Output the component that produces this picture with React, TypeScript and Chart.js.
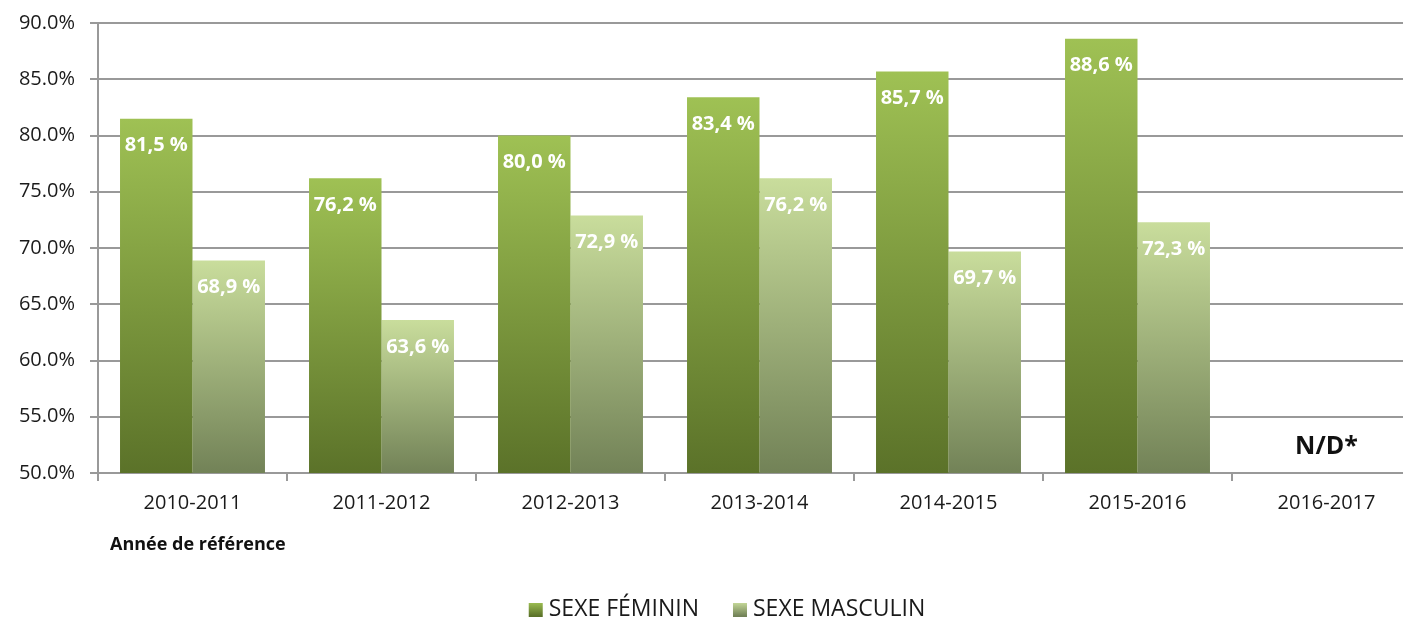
import React, { useEffect, useRef } from "react";
import { Chart, registerables } from "chart.js";

Chart.register(...registerables);

const categories = ["2010-2011", "2011-2012", "2012-2013", "2013-2014", "2014-2015", "2015-2016", "2016-2017"];
const feminin: (number | null)[] = [81.5, 76.2, 80.0, 83.4, 85.7, 88.6, null];
const masculin: (number | null)[] = [68.9, 63.6, 72.9, 76.2, 69.7, 72.3, null];
const seriesNames = ["SEXE FÉMININ", "SEXE MASCULIN"];
const yMin = 50;
const yMax = 90;
const yStep = 5;
const missingLabel = "N/D*";
const xAxisTitle = "Année de référence";

const FONT = "'Open Sans', 'DejaVu Sans', sans-serif";
const femColors = ["#9fc154", "#5b7229"];
const mascColors = ["#c9dd9c", "#728257"];
const GRID = "#999999";

function makeGradient(ctx: any, colors: string[]) {
  const chart = ctx.chart;
  const v = ctx.raw;
  const ys = chart.scales && chart.scales.y;
  if (v == null || !ys) return colors[0];
  const top = ys.getPixelForValue(v);
  const bottom = ys.getPixelForValue(ys.min);
  if (!isFinite(top) || !isFinite(bottom) || top === bottom) return colors[0];
  const g = chart.ctx.createLinearGradient(0, top, 0, bottom);
  g.addColorStop(0, colors[0]);
  g.addColorStop(1, colors[1]);
  return g;
}

const labelsPlugin = {
  id: "customLabels",
  afterDatasetsDraw(chart: any) {
    const c = chart.ctx;
    c.save();
    c.font = `bold 20px ${FONT}`;
    c.fillStyle = "#ffffff";
    c.textAlign = "center";
    c.textBaseline = "middle";
    chart.data.datasets.forEach((ds: any, di: number) => {
      const meta = chart.getDatasetMeta(di);
      meta.data.forEach((el: any, i: number) => {
        const v = ds.data[i];
        if (v == null) return;
        const txt = v.toFixed(1).replace(".", ",") + " %";
        c.fillText(txt, el.x, el.y + 27);
      });
    });
    const area = chart.chartArea;
    c.font = `bold 25px ${FONT}`;
    c.fillStyle = "#111111";
    categories.forEach((_, i) => {
      if (feminin[i] == null && masculin[i] == null) {
        const x = chart.scales.x.getPixelForValue(i);
        c.fillText(missingLabel, x, area.bottom - 26);
      }
    });
    c.restore();
  },
  afterDraw(chart: any) {
    const c = chart.ctx;
    c.save();
    c.font = `bold 18px ${FONT}`;
    c.fillStyle = "#111111";
    c.textAlign = "left";
    c.textBaseline = "middle";
    c.fillText(xAxisTitle, 110, 545);
    c.font = `23px ${FONT}`;
    const box = 14;
    const gapBoxText = 6;
    const gapItems = 34;
    const widths = seriesNames.map((n) => c.measureText(n).width);
    const total = widths.reduce((a, w) => a + box + gapBoxText + w, 0) + gapItems;
    let x = 727 - total / 2;
    const cy = 609;
    const cols = [femColors, mascColors];
    seriesNames.forEach((n, i) => {
      const g = c.createLinearGradient(0, cy - box / 2, 0, cy + box / 2);
      g.addColorStop(0, cols[i][0]);
      g.addColorStop(1, cols[i][1]);
      c.fillStyle = g;
      c.fillRect(x, cy - box / 2 + 1, box, box);
      x += box + gapBoxText;
      c.fillStyle = "#1a1a1a";
      c.fillText(n, x, cy);
      x += widths[i] + gapItems;
    });
    c.restore();
  },
};

export default function App() {
  const ref = useRef<HTMLCanvasElement | null>(null);
  useEffect(() => {
    document.body.style.overflow = "hidden";
    const canvas = ref.current;
    if (!canvas) return;
    const chart = new Chart(canvas, {
      type: "bar",
      data: {
        labels: categories,
        datasets: [
          {
            label: seriesNames[0],
            data: feminin,
            backgroundColor: (ctx: any) => makeGradient(ctx, femColors),
            borderWidth: 0,
            barPercentage: 1,
            categoryPercentage: 0.767,
          },
          {
            label: seriesNames[1],
            data: masculin,
            backgroundColor: (ctx: any) => makeGradient(ctx, mascColors),
            borderWidth: 0,
            barPercentage: 1,
            categoryPercentage: 0.767,
          },
        ],
      },
      options: {
        responsive: false,
        animation: false,
        layout: { padding: { top: 23, right: 19, left: 0, bottom: 0 } },
        plugins: {
          legend: { display: false },
          tooltip: { enabled: false },
        },
        scales: {
          x: {
            afterFit: (s: any) => {
              s.height = 148;
              s.paddingLeft = 0;
              s.paddingRight = 0;
            },
            grid: {
              drawOnChartArea: false,
              drawTicks: true,
              tickLength: 8,
              color: GRID,
              lineWidth: 2,
              offset: true,
            },
            border: { display: true, color: GRID, width: 2 },
            ticks: {
              color: "#1a1a1a",
              font: { family: FONT, size: 20 },
              padding: 10,
              maxRotation: 0,
            },
          },
          y: {
            min: yMin,
            max: yMax,
            afterFit: (s: any) => {
              s.width = 98;
              s.paddingTop = 0;
              s.paddingBottom = 0;
            },
            grid: {
              color: GRID,
              lineWidth: 2,
              drawTicks: true,
              tickLength: 8,
            },
            border: { display: true, color: GRID, width: 2 },
            ticks: {
              stepSize: yStep,
              color: "#1a1a1a",
              font: { family: FONT, size: 20 },
              padding: 15,
              callback: (v: any) => Number(v).toFixed(1) + "%",
            },
          },
        },
      },
      plugins: [labelsPlugin],
    });
    return () => chart.destroy();
  }, []);
  return (
    <div style={{ position: "fixed", left: 0, top: 0, width: 1440, height: 621, background: "#ffffff" }}>
      <canvas ref={ref} width={1440} height={621} />
    </div>
  );
}
